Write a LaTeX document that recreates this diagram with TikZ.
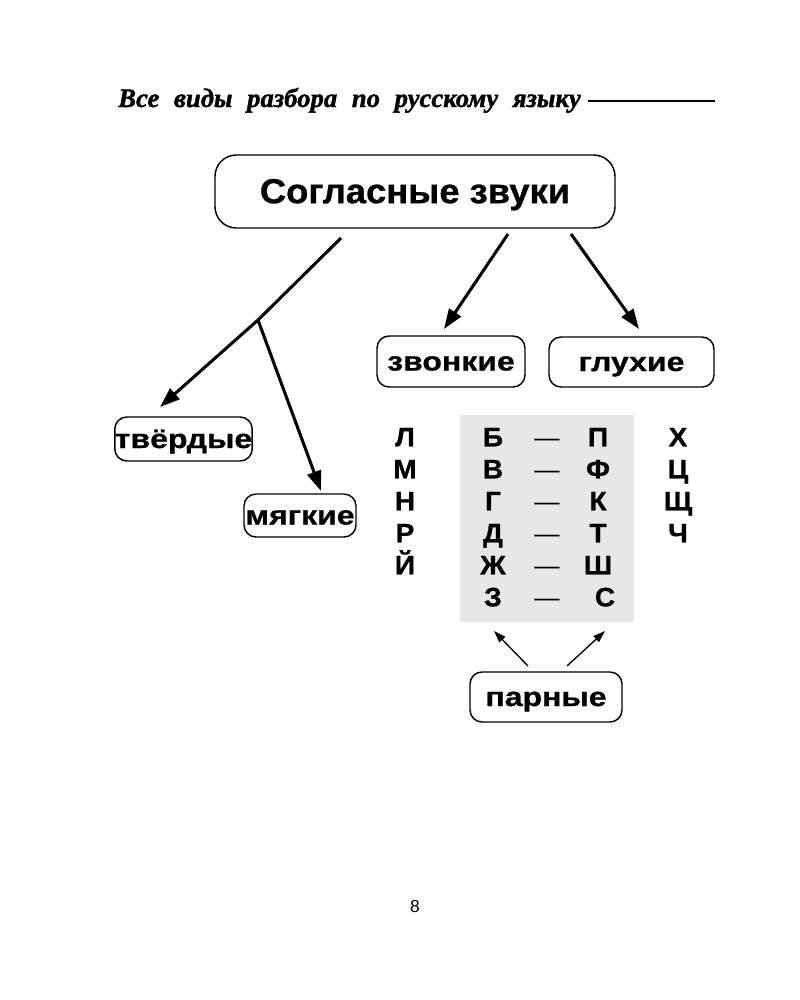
\documentclass[tikz,border=0pt]{standalone}
\usepackage{fontspec}
\setmainfont{Liberation Sans}
\newfontfamily\hdrfont{Liberation Serif}[BoldItalicFeatures={FakeBold=1.5}]
\newfontfamily\labfont{Liberation Sans}[BoldFeatures={FakeBold=0.8}, FakeStretch=1.2]
\newfontfamily\titlefont{Liberation Sans}[BoldFeatures={FakeBold=0.8}, FakeStretch=1.05]
\newfontfamily\ltrfont{Liberation Sans}[BoldFeatures={FakeBold=0.8}, FakeStretch=1.05]
\usetikzlibrary{arrows.meta}
\definecolor{pairgray}{HTML}{E5E7E8}
\tikzset{
  lbl/.style={draw, line width=1.1pt, rounded corners=9pt, inner sep=0pt, text height=13.5pt, text depth=0pt, font=\labfont\bfseries\fontsize{20}{20}\selectfont},
  big/.style={draw, line width=1.1pt, rounded corners=16pt, inner sep=0pt, text height=17.5pt, text depth=0pt, font=\titlefont\bfseries\fontsize{26}{26}\selectfont},
  ltr/.style={font=\ltrfont\bfseries\fontsize{20}{20}\selectfont, inner sep=0pt, text height=14pt, text depth=0pt, anchor=center},
  dsh/.style={font=\fontsize{19}{19}\selectfont, inner sep=0pt, anchor=base},
  bigarrow/.style={line width=2.3pt, -{Triangle[length=15pt,width=10.5pt]}},
  thinarrow/.style={line width=1pt, -{Triangle[length=9pt,width=6pt]}},
  plainline/.style={line width=2.3pt}
}
\begin{document}
\begin{tikzpicture}[x=0.75pt,y=-0.75pt]
\useasboundingbox (0,0) rectangle (800,1000);
% header
\node[anchor=base west, inner sep=0pt, font=\hdrfont\bfseries\itshape\fontsize{20}{20}\selectfont] (hdr) at (118,107) {Все\hspace{0.55em}виды\hspace{0.55em}разбора\hspace{0.55em}по\hspace{0.55em}русскому\hspace{0.55em}языку};
\coordinate (hl) at (588,101);
\coordinate (hr) at (715,101);
\draw[line width=1.6pt] (hl) -- (hr);
% main box
\node[big, minimum width=400*0.75pt, minimum height=73*0.75pt] (main) at (415,191.5) {Согласные звуки};
% second level
\node[lbl, minimum width=148*0.75pt, minimum height=51*0.75pt] (zv) at (451,361.5) {звонкие};
\node[lbl, minimum width=165*0.75pt, minimum height=50*0.75pt] (gl) at (631.5,362) {глухие};
\node[lbl, minimum width=137*0.75pt, minimum height=44*0.75pt] (tv) at (183.5,439) {твёрдые};
\node[lbl, minimum width=112*0.75pt, minimum height=43*0.75pt] (mg) at (300,515.5) {мягкие};
\node[lbl, minimum width=152*0.75pt, minimum height=50*0.75pt] (pr) at (546,697) {парные};
% arrows
\coordinate (s1) at (341,238);
\coordinate (jn) at (258,320);
\coordinate (e1) at (160,407);
\coordinate (e2) at (321,491);
\coordinate (s2) at (508,234);
\coordinate (e3) at (444,329);
\coordinate (s3) at (571,234);
\coordinate (e4) at (639,329);
\draw[plainline] (s1) -- (jn);
\draw[bigarrow] (jn) -- (e1);
\draw[bigarrow] (jn) -- (e2);
\draw[bigarrow] (s2) -- (e3);
\draw[bigarrow] (s3) -- (e4);
% gray pair block
\node[fill=pairgray, inner sep=0pt, minimum width=174*0.75pt, minimum height=207*0.75pt] (pairs) at (547,518.5) {};
% letters
\node[ltr] (l1) at (405,437) {Л};
\node[ltr] (l2) at (405,469) {М};
\node[ltr] (l3) at (405,501) {Н};
\node[ltr] (l4) at (405,533) {Р};
\node[ltr] (l5) at (405,565) {Й};
\node[ltr] (a1) at (493,437) {Б};
\node[ltr] (a2) at (493,469) {В};
\node[ltr] (a3) at (493,501) {Г};
\node[ltr] (a4) at (493,533) {Д};
\node[ltr] (a5) at (493,565) {Ж};
\node[ltr] (a6) at (493,597) {З};
\foreach \y/\n in {437/1,469/2,501/3,533/4,565/5,597/6}
  \node[dsh] (d\n) at (547,\y+9) {—};
\node[ltr] (b1) at (598,437) {П};
\node[ltr] (b2) at (598,469) {Ф};
\node[ltr] (b3) at (598,501) {К};
\node[ltr] (b4) at (598,533) {Т};
\node[ltr] (b5) at (598,565) {Ш};
\node[ltr] (b6) at (605,597) {С};
\node[ltr] (c1) at (678,437) {Х};
\node[ltr] (c2) at (678,469) {Ц};
\node[ltr] (c3) at (678,501) {Щ};
\node[ltr] (c4) at (678,533) {Ч};
% pair arrows
\coordinate (p1) at (528,666);
\coordinate (q1) at (494,631);
\coordinate (p2) at (567,666);
\coordinate (q2) at (605,631);
\draw[thinarrow] (p1) -- (q1);
\draw[thinarrow] (p2) -- (q2);
% page number
\node[font=\fontsize{13}{13}\selectfont, inner sep=0pt] (pg) at (415,907) {8};
\end{tikzpicture}
\end{document}
